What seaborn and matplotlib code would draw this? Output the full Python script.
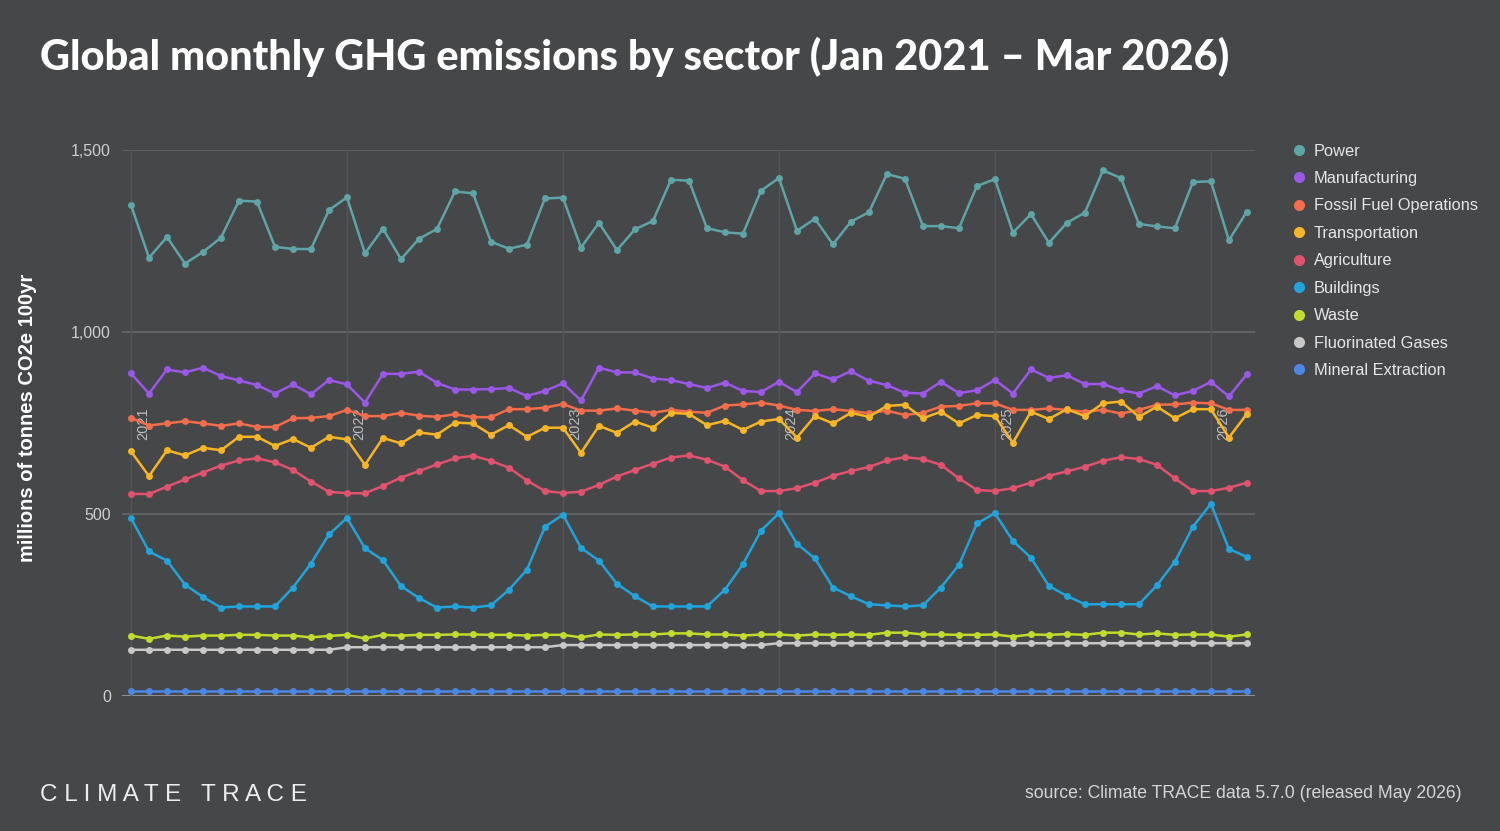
import matplotlib
matplotlib.use("Agg")
import matplotlib.pyplot as plt
from matplotlib.lines import Line2D
import seaborn as sns
import pandas as pd
import numpy as np

# ---------------- data ----------------
months = pd.date_range("2021-01-01", "2026-03-01", freq="MS")
year_labels = ["2021", "2022", "2023", "2024", "2025", "2026"]
y_ticks = [0, 500, 1000, 1500]
y_tick_labels = ["0", "500", "1,000", "1,500"]

sectors = ["Power", "Manufacturing", "Fossil Fuel Operations", "Transportation",
           "Agriculture", "Buildings", "Waste", "Fluorinated Gases", "Mineral Extraction"]

power = [1349, 1204, 1261, 1188, 1220, 1259, 1361, 1358, 1234, 1228, 1228, 1335,
         1370, 1216, 1284, 1200, 1256, 1283, 1386, 1381, 1248, 1229, 1240, 1367,
         1369, 1232, 1300, 1225, 1282, 1305, 1418, 1416, 1285, 1274, 1270, 1388,
         1423, 1278, 1311, 1241, 1303, 1329, 1434, 1421, 1291, 1291, 1285, 1401,
         1420, 1273, 1324, 1245, 1300, 1328, 1444, 1423, 1297, 1290, 1285, 1412,
         1414, 1252, 1331]
manufacturing = [886, 831, 897, 889, 902, 879, 867, 854, 831, 856, 829, 868,
                 856, 806, 885, 885, 891, 860, 842, 842, 843, 846, 824, 838,
                 859, 812, 902, 889, 889, 872, 868, 857, 846, 861, 838, 835,
                 863, 835, 886, 870, 892, 866, 854, 833, 831, 863, 832, 840,
                 868, 831, 897, 874, 881, 857, 857, 840, 831, 851, 826, 838,
                 863, 823, 884]
fossil = [764, 743, 749, 755, 749, 742, 749, 739, 739, 763, 764, 769,
          786, 769, 769, 778, 770, 767, 774, 766, 766, 788, 788, 792,
          802, 784, 784, 790, 784, 778, 786, 781, 778, 798, 801, 806,
          798, 786, 783, 788, 783, 777, 784, 772, 778, 795, 797, 804,
          804, 786, 786, 790, 786, 781, 786, 776, 786, 800, 801, 806,
          804, 786, 786]
transportation = [672, 604, 675, 661, 682, 675, 712, 712, 687, 706, 682, 712,
                  705, 635, 709, 694, 724, 718, 751, 749, 718, 744, 712, 737,
                  737, 668, 742, 723, 754, 737, 778, 775, 744, 756, 731, 754,
                  761, 710, 769, 749, 778, 767, 797, 800, 763, 781, 749, 772,
                  769, 696, 781, 761, 788, 769, 804, 809, 767, 795, 763, 788,
                  788, 710, 775]
agriculture = [555, 555, 575, 595, 614, 633, 647, 653, 642, 621, 589, 561,
               557, 557, 577, 600, 618, 636, 653, 660, 646, 627, 592, 563,
               558, 561, 580, 603, 621, 638, 655, 661, 649, 630, 593, 563,
               563, 571, 586, 605, 618, 629, 647, 656, 651, 635, 598, 566,
               563, 571, 586, 605, 617, 630, 646, 656, 651, 635, 598, 563,
               563, 572, 586]
buildings = [489, 397, 372, 306, 272, 243, 246, 246, 246, 298, 364, 444,
             489, 406, 373, 302, 269, 243, 246, 243, 249, 292, 347, 465,
             498, 407, 372, 308, 274, 246, 246, 246, 246, 292, 362, 454,
             502, 418, 378, 298, 274, 252, 249, 246, 249, 298, 360, 474,
             502, 426, 380, 302, 275, 252, 252, 252, 252, 304, 369, 465,
             528, 404, 382]
waste = [166, 157, 166, 163, 166, 166, 168, 168, 166, 166, 161, 165,
         168, 158, 168, 166, 168, 168, 169, 169, 168, 168, 166, 168,
         168, 161, 169, 168, 169, 169, 172, 172, 169, 169, 166, 169,
         169, 166, 169, 168, 169, 168, 174, 174, 169, 169, 168, 168,
         169, 163, 169, 168, 170, 168, 174, 174, 169, 172, 168, 169,
         169, 163, 169]
fluorinated = [127, 127, 127, 127, 127, 127, 127, 127, 127, 127, 127, 127,
               134, 134, 134, 134, 134, 134, 134, 134, 134, 134, 134, 134,
               140, 140, 140, 140, 140, 140, 140, 140, 140, 140, 140, 140,
               145, 145, 145, 145, 145, 145, 145, 145, 145, 145, 145, 145,
               145, 145, 145, 145, 145, 145, 145, 145, 145, 145, 145, 145,
               145, 145, 145]
mineral = [15, 15, 15, 15, 15, 15, 15, 15, 15, 15, 15, 15,
           15, 15, 15, 15, 15, 15, 15, 15, 15, 15, 15, 15,
           15, 15, 15, 15, 15, 15, 15, 15, 15, 15, 15, 15,
           15, 15, 15, 15, 15, 15, 15, 15, 15, 15, 15, 15,
           15, 15, 15, 15, 15, 15, 15, 15, 15, 15, 15, 15,
           15, 15, 15]

colors = ["#5FA4A6", "#9B57E6", "#F26D4B", "#F5B526", "#E0536C",
          "#22A3D9", "#C3DB2E", "#C8C8C8", "#4D87E6"]

series = [power, manufacturing, fossil, transportation, agriculture,
          buildings, waste, fluorinated, mineral]
frames = []
for name, vals in zip(sectors, series):
    frames.append(pd.DataFrame({"idx": np.arange(len(months)), "month": months,
                                "value": vals, "sector": name}))
df = pd.concat(frames, ignore_index=True)

# ---------------- style ----------------
BG = "#464749"
sns.set_theme(style="dark")
plt.rcParams["font.family"] = ["Lato", "DejaVu Sans"]

fig = plt.figure(figsize=(15, 8.31), dpi=100, facecolor=BG)
ax = fig.add_axes([122 / 1500, 1 - 696 / 831, (1255 - 122) / 1500, (696 - 150) / 831])
ax.set_facecolor(BG)

# grid
for v in y_ticks[1:]:
    ax.axhline(v, color="#66676A", lw=1.2, zorder=0)
ax.axhline(0, color="#8E8F92", lw=2.2, zorder=0)
year_starts = [i for i, m in enumerate(months) if m.month == 1]
for i, lab in zip(year_starts, year_labels):
    ax.axvline(i, color="#545557", lw=1.0, zorder=0)
    ax.text(i + 0.28, 748, lab, rotation=90, ha="left", va="center",
            color="#BDBDBD", fontsize=10.5, family=["Liberation Sans", "DejaVu Sans"])

sns.lineplot(data=df, x="idx", y="value", hue="sector", hue_order=sectors,
             palette=colors, marker="o", markersize=5, markeredgewidth=0,
             linewidth=1.8, ax=ax, legend=False, zorder=3)

ax.set_xlim(-0.5, 62.45)
ax.set_ylim(0, 1500)
ax.set_xticks([])
ax.set_yticks(y_ticks)
ax.set_yticklabels(y_tick_labels, color="#CFCFCF", fontsize=11.5,
                   family="Liberation Sans")
ax.tick_params(axis="y", length=0, pad=8)
ax.set_xlabel("")
ax.set_ylabel("")
for s in ax.spines.values():
    s.set_visible(False)
ax.grid(False)

fig.text(28 / 1500, 1 - 418 / 831, "millions of tonnes CO2e 100yr", rotation=90,
         ha="center", va="center", color="white", fontsize=14.5, fontweight="bold",
         family=["Liberation Sans", "DejaVu Sans"])

# legend
handles = [Line2D([0], [0], marker="o", linestyle="none", markersize=8,
                  markerfacecolor=c, markeredgewidth=0) for c in colors]
fig.legend(handles, sectors, loc="upper left",
           bbox_to_anchor=(1286 / 1500, 1 - 137 / 831), frameon=False,
           labelcolor="#E6E6E6", handlelength=0.8, handletextpad=0.5,
           labelspacing=0.76, borderaxespad=0,
           prop={"family": "Liberation Sans", "size": 11.8})

# title
fig.text(40 / 1500, 1 - 57 / 831,
         "Global monthly GHG emissions by sector (Jan 2021 \u2013 Mar 2026)",
         ha="left", va="center", color="white", fontsize=30, fontweight=900)

# footer
fig.text(40 / 1500, 1 - 795 / 831, "C L I M A T E   T R A C E", ha="left",
         va="center", color="#EDEDED", fontsize=17.5, fontweight="light",
         family=["Liberation Sans", "DejaVu Sans"])
fig.text(1462 / 1500, 1 - 793 / 831,
         "source: Climate TRACE data 5.7.0 (released May 2026)", ha="right",
         va="center", color="#D5D5D5", fontsize=12.7,
         family=["Liberation Sans", "DejaVu Sans"])

fig.savefig("out.png", dpi=100, facecolor=BG)
